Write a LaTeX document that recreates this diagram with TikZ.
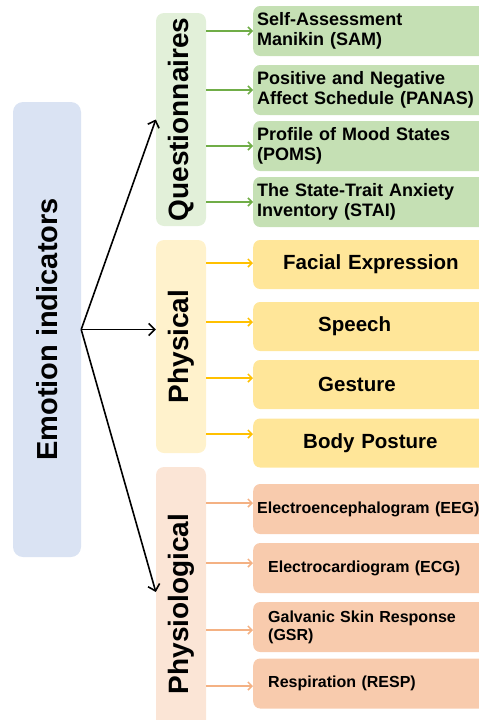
\documentclass[tikz,border=0pt]{standalone}
\usepackage{fontspec}
\setmainfont{Liberation Sans}
\definecolor{rootblue}{RGB}{218, 227, 243}
\definecolor{questbg}{RGB}{226, 240, 217}
\definecolor{physbg}{RGB}{255, 242, 204}
\definecolor{sigbg}{RGB}{251, 229, 214}
\definecolor{questleaf}{RGB}{197, 224, 180}
\definecolor{physleaf}{RGB}{255, 230, 153}
\definecolor{sigleaf}{RGB}{248, 203, 173}
\definecolor{questline}{RGB}{112, 173, 71}
\definecolor{physline}{RGB}{255, 192, 0}
\definecolor{sigline}{RGB}{244, 177, 131}
\usepackage{tikz}
\usetikzlibrary{arrows.meta, positioning}

\tikzset{
  catbox/.style={rotate=90, rounded corners=8pt, inner sep=0pt, minimum height=50pt, font=\fontsize{28}{33}\selectfont\bfseries},
  leafbox/.style={anchor=west, rounded corners=7pt, minimum width=240pt, minimum height=50pt, text width=232pt, inner xsep=4pt, inner ysep=0pt, align=left},
  questbox/.style={leafbox, fill=questleaf, font=\fontsize{18}{20}\selectfont\bfseries},
  physbox/.style={leafbox, fill=physleaf, minimum height=49pt, font=\fontsize{20.5}{24}\selectfont\bfseries},
  sigbox/.style={leafbox, fill=sigleaf, font=\fontsize{16}{18}\selectfont\bfseries},
  mainarrow/.style={line width=1.6pt, -{Straight Barb[length=6pt, width=12pt]}},
  questarrow/.style={draw=questline, line width=1.5pt, -{Straight Barb[length=4pt, width=8pt]}},
  physarrow/.style={draw=physline, line width=1.5pt, -{Straight Barb[length=4pt, width=8pt]}},
  sigarrow/.style={draw=sigline, line width=1.5pt, -{Straight Barb[length=4pt, width=8pt]}}
}

\begin{document}
\begin{tikzpicture}[x=1pt, y=-1pt]
  \useasboundingbox (0,0) rectangle (479,720);
  \clip (0,0) rectangle (479,720);

  % Root
  \node[catbox, fill=rootblue, rounded corners=10pt, minimum width=455pt, minimum height=68pt, font=\fontsize{29}{34}\selectfont\bfseries] (emo) at (47,329.5) {Emotion indicators};

  % Categories
  \node[catbox, fill=questbg, minimum width=213pt] (quest) at (181,119.5) {Questionnaires};
  \node[catbox, fill=physbg, minimum width=213pt] (phys) at (181,346.5) {Physical};
  \node[catbox, fill=sigbg, minimum width=274pt] (physio) at (181,604) {Physiological};

  \draw[mainarrow] (emo.south) -- (quest.north);
  \draw[mainarrow] (emo.south) -- (emo.south -| phys.north);
  \draw[mainarrow] (emo.south) -- ([yshift=12pt]physio.north);

  % Questionnaires
  \node[questbox] (sam) at (253,31) {Self-Assessment\\Manikin (SAM)};
  \node[questbox] (panas) at (253,90) {Positive and Negative\\Affect Schedule (PANAS)};
  \node[questbox] (poms) at (253,146) {Profile of Mood States\\(POMS)};
  \node[questbox] (stai) at (253,202) {The State-Trait Anxiety\\Inventory (STAI)};

  \draw[questarrow] (sam.west -| quest.south) -- (sam.west);
  \draw[questarrow] (panas.west -| quest.south) -- (panas.west);
  \draw[questarrow] (poms.west -| quest.south) -- (poms.west);
  \draw[questarrow] (stai.west -| quest.south) -- (stai.west);

  % Physical
  \node[physbox] (face) at (253,264.5) {\hspace*{26pt}Facial Expression};
  \node[physbox] (speech) at (253,326.5) {\hspace*{61pt}Speech};
  \node[physbox] (gest) at (253,384.5) {\hspace*{61pt}Gesture};
  \node[physbox] (posture) at (253,443) {\hspace*{46pt}Body Posture};

  \draw[physarrow] ([yshift=1.5pt]face.west -| phys.south) -- ([yshift=1.5pt]face.west);
  \draw[physarrow] ([yshift=4.5pt]speech.west -| phys.south) -- ([yshift=4.5pt]speech.west);
  \draw[physarrow] ([yshift=6.5pt]gest.west -| phys.south) -- ([yshift=6.5pt]gest.west);
  \draw[physarrow] ([yshift=9pt]posture.west -| phys.south) -- ([yshift=9pt]posture.west);

  % Physiological
  \node[sigbox] (eeg) at (253,509) {Electroencephalogram (EEG)};
  \node[sigbox] (ecg) at (253,568) {\hspace*{11pt}Electrocardiogram (ECG)};
  \node[sigbox] (gsr) at (253,627) {\hspace*{11pt}Galvanic Skin Response\\\hspace*{11pt}(GSR)};
  \node[sigbox] (resp) at (253,683.5) {\hspace*{11pt}Respiration (RESP)};

  \draw[sigarrow] ([yshift=6pt]eeg.west -| physio.south) -- ([yshift=6pt]eeg.west);
  \draw[sigarrow] ([yshift=5pt]ecg.west -| physio.south) -- ([yshift=5pt]ecg.west);
  \draw[sigarrow] ([yshift=-3pt]gsr.west -| physio.south) -- ([yshift=-3pt]gsr.west);
  \draw[sigarrow] ([yshift=-2.5pt]resp.west -| physio.south) -- ([yshift=-2.5pt]resp.west);
\end{tikzpicture}
\end{document}
